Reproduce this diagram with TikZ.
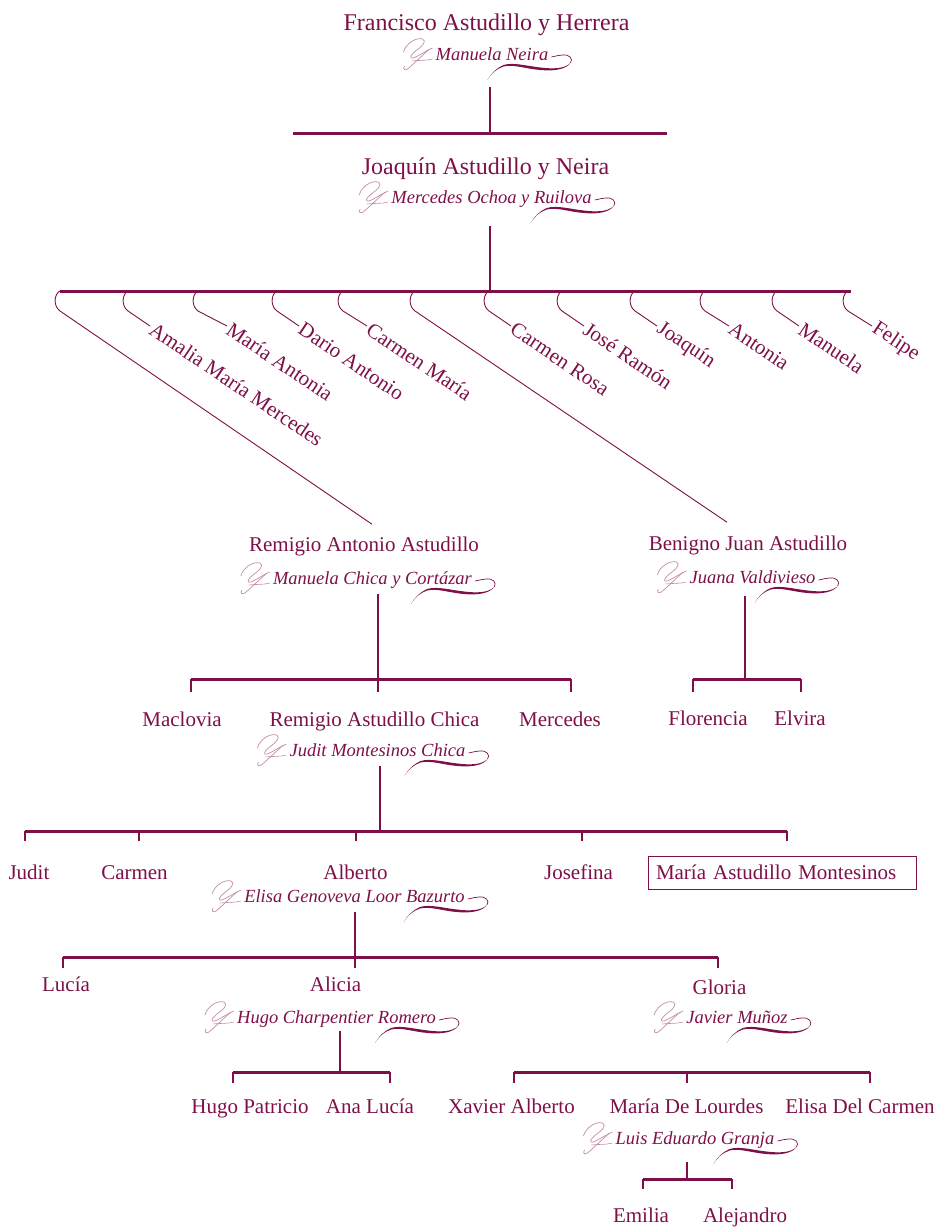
\documentclass[tikz,border=0pt]{standalone}
\usepackage{fontspec}
\setmainfont{Liberation Serif}
\definecolor{wine}{RGB}{125,16,72}
\definecolor{rose}{RGB}{196,140,170}

\begin{document}
\begin{tikzpicture}[x=1pt, y=-1pt,
    person/.style ={text=wine, font=\fontsize{21}{25}\selectfont, inner sep=0pt, anchor=base},
    elder/.style ={person, font=\fontsize{24}{28}\selectfont},
    spouse/.style ={text=wine, font=\fontsize{18.5}{22}\selectfont\itshape, inner sep=0pt, anchor=base},
    sibling/.style ={person, anchor=west, rotate=-34, inner sep=2pt},
    bar/.style ={draw=wine, line width=3pt},
    stem/.style ={draw=wine, line width=1.2pt},
    hookline/.style ={draw=wine, line width=0.9pt},
    ornament/.pic ={
      \draw[rose, line width=0.7pt] (-32,-8) .. controls (-30,-16) and (-20,-23) .. (-13,-21)
         .. controls (-8,-19) and (-14,-13) .. (-20,-9) .. controls (-25,-5) and (-27,-1) .. (-22,-2)
         .. controls (-17,-4) and (-10,-9) .. (-3,-12);
      \draw[rose, line width=0.7pt] (-6,-11) .. controls (-14,-4) and (-22,4) .. (-28,9)
         .. controls (-31,11) and (-33,9) .. (-31,6);
      \draw[rose, line width=0.6pt] (-24,1) .. controls (-17,0) and (-10,1) .. (-3,-1);},
    swoosh/.pic ={
      \draw[wine, line width=0.7pt] (3,-3) .. controls (8,-4) and (11,-5) .. (14,-5)
         .. controls (21,-6) and (25,-1) .. (22,3);
      \fill[wine] (22,3) .. controls (16,9) and (4,9) .. (-8,7.5) .. controls (-22,6) and (-35,2) .. (-45,5)
         .. controls (-52,8) and (-58,14) .. (-61,20) .. controls (-57,13) and (-52,9) .. (-45,6.5)
         .. controls (-35,4) and (-22,9) .. (-8,10) .. controls (6,11.5) and (18,9) .. (22,3) -- cycle;}]

   \useasboundingbox (0,0) rectangle (939,1227);

   % generation 1
   \node[elder] (FA) at (486.5,30) {Francisco Astudillo y Herrera};
   \node[spouse] (S1) at (492,60) {Manuela Neira};
   \pic at (S1.base west) {ornament};
   \pic at (S1.base east) {swoosh};
   \coordinate (p1) at (490,87);
   \coordinate (b1) at (490,133);
   \coordinate (l1) at (293,133);
   \coordinate (r1) at (667,133);
   \draw[stem] (p1) -- (b1);
   \draw[bar] (l1) -- (r1);

   % generation 2
   \node[elder] (JA) at (485.5,174) {Joaquín Astudillo y Neira};
   \node[spouse] (S2) at (491.5,203) {Mercedes Ochoa y Ruilova};
   \pic at (S2.base west) {ornament};
   \pic at (S2.base east) {swoosh};
   \coordinate (p2) at (490,226);
   \coordinate (b2) at (490,291);
   \coordinate (l2) at (60,291);
   \coordinate (r2) at (851,291);
   \draw[stem] (p2) -- (b2);
   \draw[bar] (l2) -- (r2);

   \coordinate (h1) at (60,291);
   \coordinate (h2) at (128,291);
   \coordinate (h3) at (198,291);
   \coordinate (h4) at (277,291);
   \coordinate (h5) at (343,291);
   \coordinate (h6) at (415,291);
   \coordinate (h7) at (489,291);
   \coordinate (h8) at (562,291);
   \coordinate (h9) at (635,291);
   \coordinate (h10) at (705,291);
   \coordinate (h11) at (777,291);
   \coordinate (h12) at (848,291);

   \node[sibling] (K2) at (150,326) {Amalia María Mercedes};
   \node[sibling] (K3) at (227,326) {María Antonia};
   \node[sibling] (K4) at (299,326) {Dario Antonio};
   \node[sibling] (K5) at (367,326) {Carmen María};
   \node[sibling] (K7) at (511,326) {Carmen Rosa};
   \node[sibling] (K8) at (584,326) {José Ramón};
   \node[sibling] (K9) at (657,326) {Joaquín};
   \node[sibling] (K10) at (729,326) {Antonia};
   \node[sibling] (K11) at (799,326) {Manuela};
   \node[sibling] (K12) at (872,326) {Felipe};

   \node[person] (RA) at (364,551) {Remigio Antonio Astudillo};
   \node[person] (BJ) at (748,550) {Benigno Juan Astudillo};

   \draw[hookline] (h1) .. controls (54,294) and (53,306) .. (60,311) -- ([xshift=8pt,yshift=12pt]RA.north);
   \draw[hookline] (h2) .. controls (122,294) and (121,306) .. (128,311) -- (K2.west);
   \draw[hookline] (h3) .. controls (192,294) and (191,306) .. (198,311) -- (K3.west);
   \draw[hookline] (h4) .. controls (271,294) and (270,306) .. (277,311) -- (K4.west);
   \draw[hookline] (h5) .. controls (337,294) and (336,306) .. (343,311) -- (K5.west);
   \draw[hookline] (h6) .. controls (409,294) and (408,306) .. (415,311) -- ([xshift=-21pt,yshift=13pt]BJ.north);
   \draw[hookline] (h7) .. controls (483,294) and (482,306) .. (489,311) -- (K7.west);
   \draw[hookline] (h8) .. controls (556,294) and (555,306) .. (562,311) -- (K8.west);
   \draw[hookline] (h9) .. controls (629,294) and (628,306) .. (635,311) -- (K9.west);
   \draw[hookline] (h10) .. controls (699,294) and (698,306) .. (705,311) -- (K10.west);
   \draw[hookline] (h11) .. controls (771,294) and (770,306) .. (777,311) -- (K11.west);
   \draw[hookline] (h12) .. controls (842,294) and (841,306) .. (848,311) -- (K12.west);

   % generation 3
   \node[spouse] (S3) at (372.5,584) {Manuela Chica y Cortázar};
   \pic at (S3.base west) {ornament};
   \pic at (S3.base east) {swoosh};
   \coordinate (p3) at (378,594);
   \coordinate (b3) at (378,679);
   \coordinate (l3) at (191,679);
   \coordinate (r3) at (571,679);
   \coordinate (t3a) at (191,692);
   \coordinate (t3b) at (378,692);
   \coordinate (t3c) at (571,692);
   \draw[stem] (p3) -- (t3b);
   \draw[stem] (l3) -- (t3a);
   \draw[stem] (r3) -- (t3c);
   \draw[bar] (l3) -- (r3);

   \node[spouse] (S4) at (752.5,583) {Juana Valdivieso};
   \pic at (S4.base west) {ornament};
   \pic at (S4.base east) {swoosh};
   \coordinate (p4) at (745,596);
   \coordinate (b4) at (745,679);
   \coordinate (l4) at (693,679);
   \coordinate (r4) at (801,679);
   \coordinate (t4a) at (693,692);
   \coordinate (t4b) at (801,692);
   \draw[stem] (p4) -- (b4);
   \draw[stem] (l4) -- (t4a);
   \draw[stem] (r4) -- (t4b);
   \draw[bar] (l4) -- (r4);

   \node[person] (MA) at (182,726) {Maclovia};
   \node[person] (RC) at (374.5,726) {Remigio Astudillo Chica};
   \node[person] (ME) at (560,726) {Mercedes};
   \node[person] (FL) at (708,725) {Florencia};
   \node[person] (EL) at (800,725) {Elvira};

   % generation 4
   \node[spouse] (S5) at (377.5,756) {Judit Montesinos Chica};
   \pic at (S5.base west) {ornament};
   \pic at (S5.base east) {swoosh};
   \coordinate (p5) at (380,766);
   \coordinate (b5) at (380,831);
   \coordinate (l5) at (25,831);
   \coordinate (r5) at (787,831);
   \coordinate (m5a) at (139,831);
   \coordinate (m5b) at (356,831);
   \coordinate (m5c) at (582,831);
   \draw[stem] (p5) -- (b5);
   \draw[stem] (l5) -- +(0,10);
   \draw[stem] (m5a) -- +(0,10);
   \draw[stem] (m5b) -- +(0,10);
   \draw[stem] (m5c) -- +(0,10);
   \draw[stem] (r5) -- +(0,10);
   \draw[bar] (l5) -- (r5);

   \node[person] (JU) at (29,879) {Judit};
   \node[person] (CA) at (134.5,879) {Carmen};
   \node[person] (AL) at (355.5,879) {Alberto};
   \node[person] (JO) at (578.5,879) {Josefina};
   \node[person, draw=wine, line width=0.8pt, anchor=center, minimum height=33pt,
         text width=252pt, inner xsep=8pt, align=left] (MM) at (782,872.5) {María Astudillo Montesinos};

   % generation 5
   \node[spouse] (S6) at (354.5,902) {Elisa Genoveva Loor Bazurto};
   \pic at (S6.base west) {ornament};
   \pic at (S6.base east) {swoosh};
   \coordinate (p6) at (355,912);
   \coordinate (b6) at (355,968);
   \coordinate (l6) at (63,957);
   \coordinate (r6) at (718,957);
   \draw[stem] (p6) -- (b6);
   \draw[stem] (l6) -- +(0,11);
   \draw[stem] (r6) -- +(0,11);
   \draw[bar] (l6) -- (r6);

   \node[person] (LU) at (66,991) {Lucía};
   \node[person] (AI) at (335.5,991) {Alicia};
   \node[person] (GL) at (719.5,994) {Gloria};

   % generation 6
   \node[spouse] (S7) at (336.5,1023) {Hugo Charpentier Romero};
   \pic at (S7.base west) {ornament};
   \pic at (S7.base east) {swoosh};
   \coordinate (p7) at (340,1031);
   \coordinate (b7) at (340,1072);
   \coordinate (l7) at (233,1072);
   \coordinate (r7) at (390,1072);
   \draw[stem] (p7) -- (b7);
   \draw[stem] (l7) -- +(0,11);
   \draw[stem] (r7) -- +(0,11);
   \draw[bar] (l7) -- (r7);

   \node[spouse] (S8) at (737,1023) {Javier Muñoz};
   \pic at (S8.base west) {ornament};
   \pic at (S8.base east) {swoosh};
   \coordinate (l8) at (514,1072);
   \coordinate (m8) at (687,1072);
   \coordinate (r8) at (870,1072);
   \draw[stem] (l8) -- +(0,11);
   \draw[stem] (m8) -- +(0,11);
   \draw[stem] (r8) -- +(0,11);
   \draw[bar] (l8) -- (r8);

   \node[person] (HP) at (250,1113) {Hugo Patricio};
   \node[person] (AN) at (370,1113) {Ana Lucía};
   \node[person] (XA) at (511.5,1113) {Xavier Alberto};
   \node[person] (MD) at (686.5,1113) {María De Lourdes};
   \node[person] (ED) at (860,1113) {Elisa Del Carmen};

   % generation 7
   \node[spouse] (S9) at (695,1144) {Luis Eduardo Granja};
   \pic at (S9.base west) {ornament};
   \pic at (S9.base east) {swoosh};
   \coordinate (p9) at (687,1162);
   \coordinate (b9) at (687,1179);
   \coordinate (l9) at (643,1179);
   \coordinate (r9) at (732,1179);
   \draw[stem] (p9) -- (b9);
   \draw[stem] (l9) -- +(0,10);
   \draw[stem] (r9) -- +(0,10);
   \draw[bar] (l9) -- (r9);

   \node[person] (EM) at (641,1222) {Emilia};
   \node[person] (AJ) at (745,1222) {Alejandro};
%   \draw[stem] (S8.south) -- (m8);
 \end{tikzpicture}
\end{document}
